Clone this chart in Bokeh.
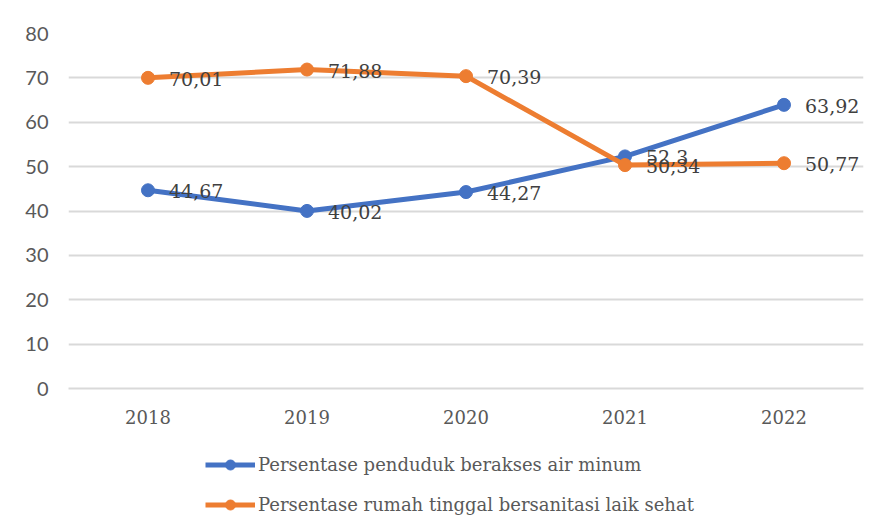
from bokeh.plotting import figure
from bokeh.models import ColumnDataSource, Legend, LegendItem, FactorRange
from bokeh.layouts import column
from bokeh.embed import file_html
from bokeh.resources import INLINE
from bokeh.core.properties import value

years = ["2018", "2019", "2020", "2021", "2022"]
air_minum = [44.67, 40.02, 44.27, 52.3, 63.92]
sanitasi = [70.01, 71.88, 70.39, 50.34, 50.77]
name_air = "Persentase penduduk berakses air minum"
name_san = "Persentase rumah tinggal bersanitasi laik sehat"

def fmt(v):
    s = ("%.2f" % v).rstrip("0").rstrip(".")
    return s.replace(".", ",")

BLUE = "#4472C4"
ORANGE = "#ED7D31"
SERIF = "DejaVu Serif"

p = figure(x_range=FactorRange(*years), y_range=(0, 80), width=876, height=440,
           output_backend="svg", toolbar_location=None,
           min_border_left=68, min_border_right=13, min_border_top=33, min_border_bottom=52)
p.outline_line_color = None
p.border_fill_color = "white"
p.background_fill_color = "white"

src_a = ColumnDataSource(dict(x=years, y=air_minum, lab=[fmt(v) for v in air_minum]))
src_s = ColumnDataSource(dict(x=years, y=sanitasi, lab=[fmt(v) for v in sanitasi]))

def draw_series(fig, src, color):
    ln = fig.line("x", "y", source=src, line_color=color, line_width=5)
    sc = fig.scatter("x", "y", source=src, size=13, fill_color=color, line_color=color)
    return ln, sc

draw_series(p, src_a, BLUE)
draw_series(p, src_s, ORANGE)

for src in (src_a, src_s):
    p.text("x", "y", text="lab", source=src, x_offset=21, y_offset=1,
           text_baseline="middle", text_align="left",
           text_font=value(SERIF), text_font_size="19px", text_color="#404040")

# axes
p.yaxis.ticker = [0, 10, 20, 30, 40, 50, 60, 70, 80]
p.yaxis.axis_line_color = None
p.yaxis.major_tick_line_color = None
p.yaxis.minor_tick_line_color = None
p.yaxis.major_label_standoff = 14
p.yaxis.major_label_text_font = "Lato"
p.yaxis.major_label_text_font_size = "20px"
p.yaxis.major_label_text_color = "#595959"

p.xaxis.axis_line_color = "#d9d9d9"
p.xaxis.axis_line_width = 2
p.xaxis.major_tick_line_color = None
p.xaxis.minor_tick_line_color = None
p.xaxis.major_label_standoff = 15
p.xaxis.major_label_text_font = SERIF
p.xaxis.major_label_text_font_size = "18px"
p.xaxis.major_label_text_color = "#595959"

p.xgrid.grid_line_color = None
p.ygrid.grid_line_color = "#d9d9d9"
p.ygrid.grid_line_width = 2

# legend strip below the chart: same series, drawn in a range where they stay out of view
q = figure(width=876, height=90, output_backend="svg", toolbar_location=None,
           x_range=FactorRange(*years), y_range=(500, 600),
           x_axis_location=None, y_axis_location=None, min_border=0)
q.grid.visible = False
q.outline_line_color = None
q.border_fill_color = "white"
qa = draw_series(q, src_a, BLUE)
qs = draw_series(q, src_s, ORANGE)

legend = Legend(items=[LegendItem(label=name_air, renderers=list(qa)),
                       LegendItem(label=name_san, renderers=list(qs))],
                orientation="vertical", location=(137, 13),
                label_text_font=SERIF, label_text_font_size="18px",
                label_text_color="#595959",
                glyph_width=50, glyph_height=25, label_height=25,
                label_standoff=3, spacing=15, padding=4, margin=0,
                border_line_color=None, background_fill_alpha=0)
q.add_layout(legend, "center")

layout = column(p, q, spacing=0)
open("out.html", "w").write(file_html(layout, INLINE))
